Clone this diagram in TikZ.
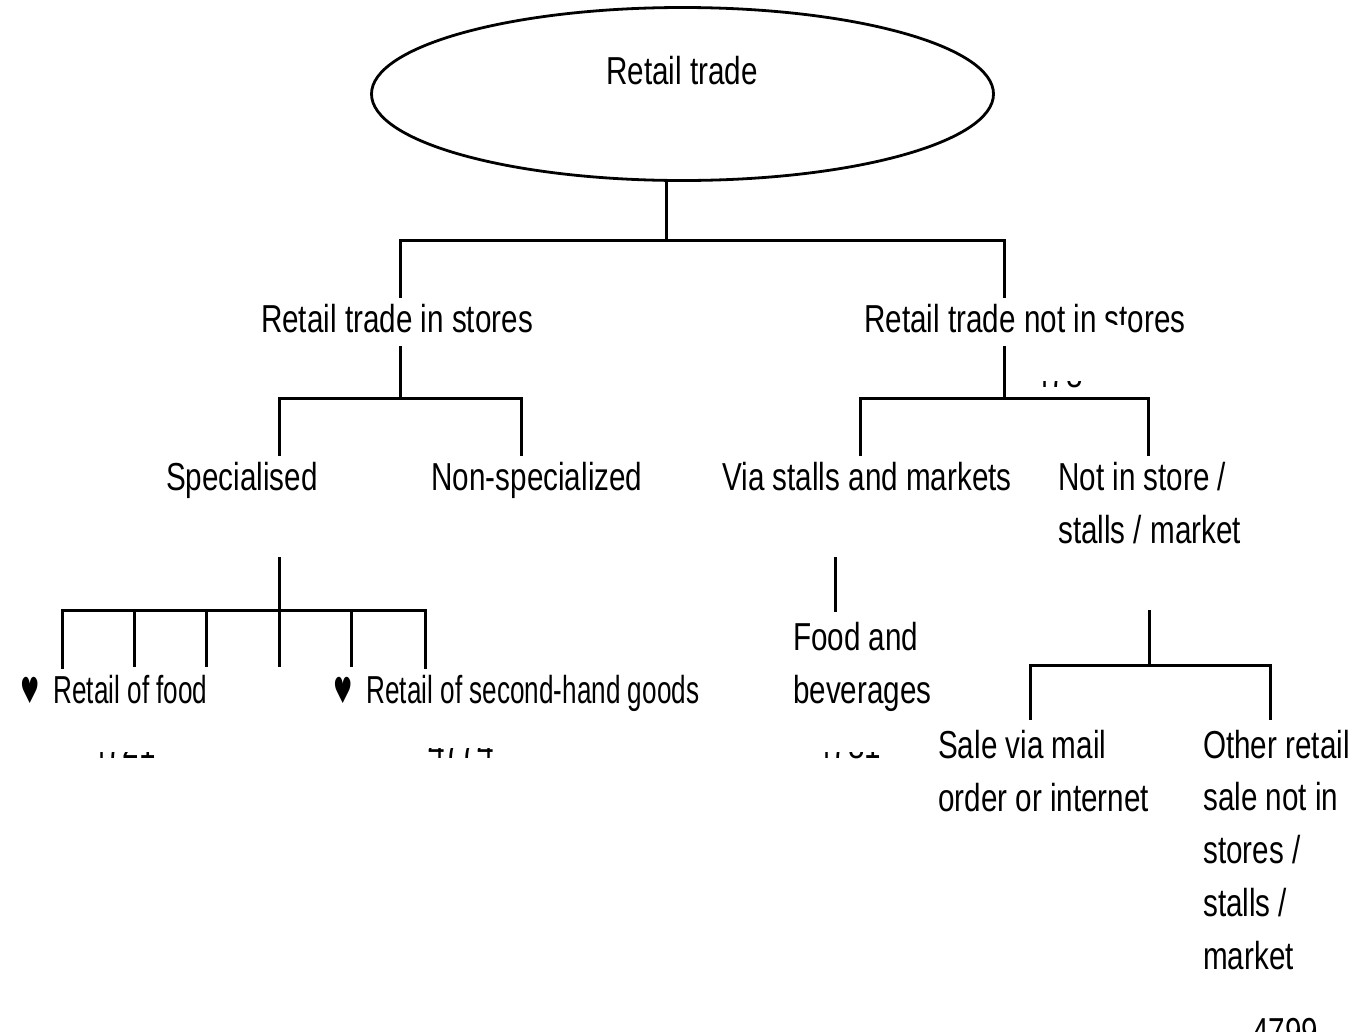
\documentclass[tikz,border=0pt]{standalone}
\usepackage{fontspec}
\usepackage{graphicx}
\setmainfont{Liberation Sans}[FakeStretch=0.76]
\newfontfamily\narrowfont{Liberation Sans}[FakeStretch=0.67]
\newfontfamily\symfont{DejaVu Sans}
\usetikzlibrary{shapes.geometric,backgrounds}
\newcommand{\hrt}{{\symfont\fontsize{36pt}{36pt}\selectfont\scalebox{0.6}[1]{♥}}}
\begin{document}
\begin{tikzpicture}[x=1pt, y=-1pt,
  txt/.style={inner sep=0pt, font=\fontsize{39pt}{52.7pt}\selectfont},
  lbl/.style={txt, anchor=base, fill=white, inner xsep=2pt, inner ysep=4pt, text height=30pt, text depth=10pt},
  multi/.style={txt, anchor=base west, align=left},
  num/.style={txt, anchor=base},
  leaf/.style={txt, anchor=base west, text height=30pt, text depth=10pt, inner ysep=4pt,
               font=\narrowfont\fontsize{39pt}{52.7pt}\selectfont},
  root/.style={draw, ellipse, line width=2.8pt, inner sep=0pt},
  conn/.style={line width=3pt}]
\useasboundingbox (0,0) rectangle (1368,1031);

% nodes
\node[root, minimum width=622pt, minimum height=173pt] (root) at (682.5,94) {};
\node[num] (roottxt) at (682,84) {Retail trade};
\node[lbl] (instore) at (397,332) {Retail trade in stores};
\node[lbl] (notstore) at (1025,332) {Retail trade not in stores};
\node[lbl] (spec) at (242,490) {Specialised};
\node[lbl] (nonspec) at (537,490) {Non-specialized};
\node[lbl] (via) at (867,490) {Via stalls and markets};
\node[multi] (notin) at (1058,543) {Not in store /\\stalls / market};
\node[leaf] (food) at (20,703) {\hrt\hspace{14pt}Retail of food};
\node[leaf] (second) at (333,703) {\hrt\hspace{14pt}Retail of second-hand goods};
\node[multi] (foodbev) at (793,703) {Food and\\beverages};
\node[multi] (mail) at (938,811) {Sale via mail\\order or internet};
\node[multi] (other) at (1203,969) {Other retail\\sale not in\\stores /\\stalls /\\market};

% partly hidden code numbers
\fill[white] (1098,325) rectangle (1127,334);
\begin{scope}
  \clip (60,752) rectangle (190,775);
  \node[num] (n4721) at (123,758) {4721};
\end{scope}
\begin{scope}
  \clip (400,748) rectangle (520,775);
  \node[num] (n4774) at (461,758) {4774};
\end{scope}
\begin{scope}
  \clip (790,752) rectangle (910,775);
  \node[num] (n4781) at (848,758) {4781};
\end{scope}
\begin{scope}
  \clip (1020,381) rectangle (1100,392);
  \node[num] (n478) at (1058,387) {478};
\end{scope}
\begin{scope}
  \clip (1230,1000) rectangle (1340,1031);
  \node[num] (n4799) at (1285,1045) {4799};
\end{scope}

% junction coordinates
\coordinate (A) at (666,240);
\coordinate (AL) at (400,240);
\coordinate (AR) at (1004,240);
\coordinate (B) at (400,398);
\coordinate (BL) at (279,398);
\coordinate (BR) at (521,398);
\coordinate (C) at (1004,398);
\coordinate (CL) at (860,398);
\coordinate (CR) at (1148,398);
\coordinate (Dtop) at (279,557);
\coordinate (D) at (279,610);
\coordinate (DL) at (62,610);
\coordinate (DR) at (425,610);
\coordinate (Etop) at (835,557);
\coordinate (Eend) at (835,612);
\coordinate (Ftop) at (1149,610);
\coordinate (F) at (1149,665);
\coordinate (FL) at (1030,665);
\coordinate (FR) at (1270,665);
\coordinate (FLend) at (1030,720);
\coordinate (FRend) at (1270,720);

\begin{scope}[on background layer, conn]
  \draw[conn] (A |- root.south) -- (A);
  \draw[conn] (AL |- instore.north) -- (AL) -- (AR) -- (AR |- notstore.north);
  \draw[conn] (B |- instore.south) -- (B);
  \draw[conn] (BL |- spec.north) -- (BL) -- (BR) -- (BR |- nonspec.north);
  \draw[conn] (C |- notstore.south) -- (C);
  \draw[conn] (CL |- via.north) -- (CL) -- (CR) -- (CR |- via.north);
  \draw[conn] (Dtop) -- (D);
  \draw[conn] (DL |- food.north) -- (DL) -- (DR) -- (DR |- second.north);
  \foreach \x in {134,206,279,351} \draw[conn] (\x,610) -- (\x,667);
  \draw[conn] (Etop) -- (Eend);
  \draw[conn] (Ftop) -- (F);
  \draw[conn] (FLend) -- (FL) -- (FR) -- (FRend);
\end{scope}
\end{tikzpicture}
\end{document}
